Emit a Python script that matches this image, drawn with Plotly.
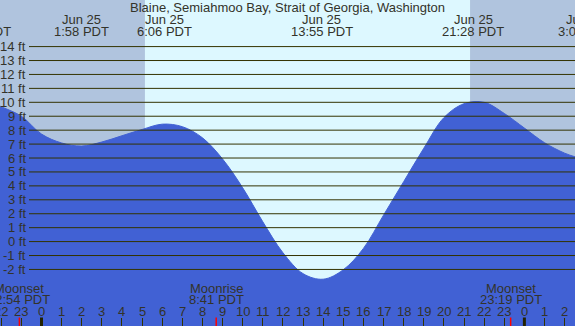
import plotly.graph_objects as go

# ---------------- data ----------------
TITLE = "Blaine, Semiahmoo Bay, Strait of Georgia, Washington"

# hours relative to Jun 25 00:00 PDT, tide height in ft
HOURS = [-2.1, -2, -1, 0, 1, 2, 3, 4, 5, 6, 7, 8, 9, 10, 11, 12, 13, 14,
         15, 16, 17, 18, 19, 20, 21, 22, 23, 24, 25, 26, 26.6]
HEIGHTS = [9.75, 9.68, 9.0, 7.72, 7.08, 6.86, 7.15, 7.6, 8.05, 8.43, 8.25,
           7.45, 5.93, 3.86, 1.42, -0.8, -2.3, -2.7, -2.02, -0.49, 1.9, 4.3,
           6.7, 8.9, 9.9, 10.0, 9.2, 8.15, 7.1, 6.35, 6.05]

Y_TICKS = list(range(-2, 15))
Y_TICK_LABELS = [f"{v} ft" for v in Y_TICKS]
X_TICK_HOURS = list(range(-2, 27))
X_TICK_LABELS = [str(h % 24) for h in X_TICK_HOURS]

TIDE_EVENT_HOURS = [-3.05, 1.967, 6.1, 13.917, 21.467, 27.02]
TIDE_EVENT_DATES = ["Jun 24", "Jun 25", "Jun 25", "Jun 25", "Jun 25", "Jun 26"]
TIDE_EVENT_TIMES = ["20:57 PDT", "1:58 PDT", "6:06 PDT", "13:55 PDT",
                    "21:28 PDT", "3:01 PDT"]

MOON_EVENT_HOURS = [-1.1, 8.683, 23.317]
MOON_EVENT_NAMES = ["Moonset", "Moonrise", "Moonset"]
MOON_EVENT_TIMES = ["22:54 PDT", "8:41 PDT", "23:19 PDT"]

MIDNIGHT_HOURS = [0, 24]
SUNRISE_HOUR = 5.14
SUNSET_HOUR = 21.30

X_RANGE = [-2.063, 26.516]
Y_RANGE = [-6.06, 17.345]

# ---------------- style ----------------
W, H = 575, 326
FONT = "Liberation Sans, Arial, sans-serif"
FS = 13
TXT = "#33332a"
LINE = "#333300"
NIGHT = "#b0c4de"
DAY = "#ddf8ff"
WATER = "#4161d4"


def xp(h):
    return (h - X_RANGE[0]) / (X_RANGE[1] - X_RANGE[0])


def yp(px):
    return 1 - px / H


fig = go.Figure()
fig.add_trace(go.Scatter(x=[X_RANGE[0], X_RANGE[1]], y=[Y_RANGE[0], Y_RANGE[0]],
                         mode="lines", line=dict(width=0, color=WATER),
                         hoverinfo="skip", showlegend=False))
fig.add_trace(go.Scatter(x=HOURS, y=HEIGHTS, mode="lines",
                         line=dict(width=1, color=WATER, shape="spline", smoothing=1.0),
                         fill="tonexty", fillcolor=WATER, showlegend=False))

shapes = []
# night shading
shapes.append(dict(type="rect", xref="x", yref="paper", x0=X_RANGE[0], x1=SUNRISE_HOUR,
                   y0=0, y1=1, fillcolor=NIGHT, line=dict(width=0), layer="below"))
shapes.append(dict(type="rect", xref="x", yref="paper", x0=SUNSET_HOUR, x1=X_RANGE[1],
                   y0=0, y1=1, fillcolor=NIGHT, line=dict(width=0), layer="below"))
# horizontal ft lines
for v in Y_TICKS:
    shapes.append(dict(type="line", xref="paper", yref="y", x0=29 / W, x1=1, y0=v, y1=v,
                       line=dict(color=LINE, width=1), layer="above"))
# midnight ticks
for h in MIDNIGHT_HOURS:
    shapes.append(dict(type="line", xref="x", yref="paper", x0=h, x1=h, y0=0, y1=8.5 / H,
                       line=dict(color="#222200", width=3), layer="above"))
# moon event ticks
for h in MOON_EVENT_HOURS:
    shapes.append(dict(type="line", xref="x", yref="paper", x0=h, x1=h, y0=0, y1=8.5 / H,
                       line=dict(color="#ff0000", width=1.5), layer="above"))

ann = []
font = dict(family=FONT, size=FS, color=TXT)
ann.append(dict(text=TITLE, xref="paper", yref="paper", x=0.5, y=yp(8),
                xanchor="center", yanchor="middle", showarrow=False, font=font))
for h, d, t in zip(TIDE_EVENT_HOURS, TIDE_EVENT_DATES, TIDE_EVENT_TIMES):
    ann.append(dict(text=d, xref="paper", yref="paper", x=xp(h), y=yp(20),
                    xanchor="center", yanchor="middle", showarrow=False, font=font))
    ann.append(dict(text=t, xref="paper", yref="paper", x=xp(h), y=yp(31.5),
                    xanchor="center", yanchor="middle", showarrow=False, font=font))
for h, n, t in zip(MOON_EVENT_HOURS, MOON_EVENT_NAMES, MOON_EVENT_TIMES):
    ann.append(dict(text=n, xref="paper", yref="paper", x=xp(h), y=yp(288),
                    xanchor="center", yanchor="middle", showarrow=False, font=font))
    ann.append(dict(text=t, xref="paper", yref="paper", x=xp(h), y=yp(299.5),
                    xanchor="center", yanchor="middle", showarrow=False, font=font))
for v, lab in zip(Y_TICKS, Y_TICK_LABELS):
    ann.append(dict(text=lab, xref="paper", yref="y", x=27.5 / W, y=v,
                    xanchor="right", yanchor="middle", showarrow=False, font=font))
for h, lab in zip(X_TICK_HOURS, X_TICK_LABELS):
    ann.append(dict(text=lab, xref="paper", yref="paper", x=xp(h), y=yp(311),
                    xanchor="center", yanchor="middle", showarrow=False, font=font))

fig.update_layout(
    width=W, height=H, autosize=False,
    margin=dict(l=0, r=0, t=0, b=0, pad=0),
    plot_bgcolor=DAY, paper_bgcolor=DAY,
    shapes=shapes, annotations=ann, showlegend=False,
    xaxis=dict(range=X_RANGE, tickvals=X_TICK_HOURS, ticktext=[""] * len(X_TICK_HOURS),
               ticks="inside", ticklen=8.5, tickcolor=LINE, tickwidth=1,
               showgrid=False, zeroline=False, showline=False, fixedrange=True),
    yaxis=dict(range=Y_RANGE, showticklabels=False, showgrid=False, zeroline=False,
               showline=False, ticks="", fixedrange=True),
)

fig.write_html("out.html", config={"displayModeBar": False},
               post_script="document.body.style.margin='0';")
